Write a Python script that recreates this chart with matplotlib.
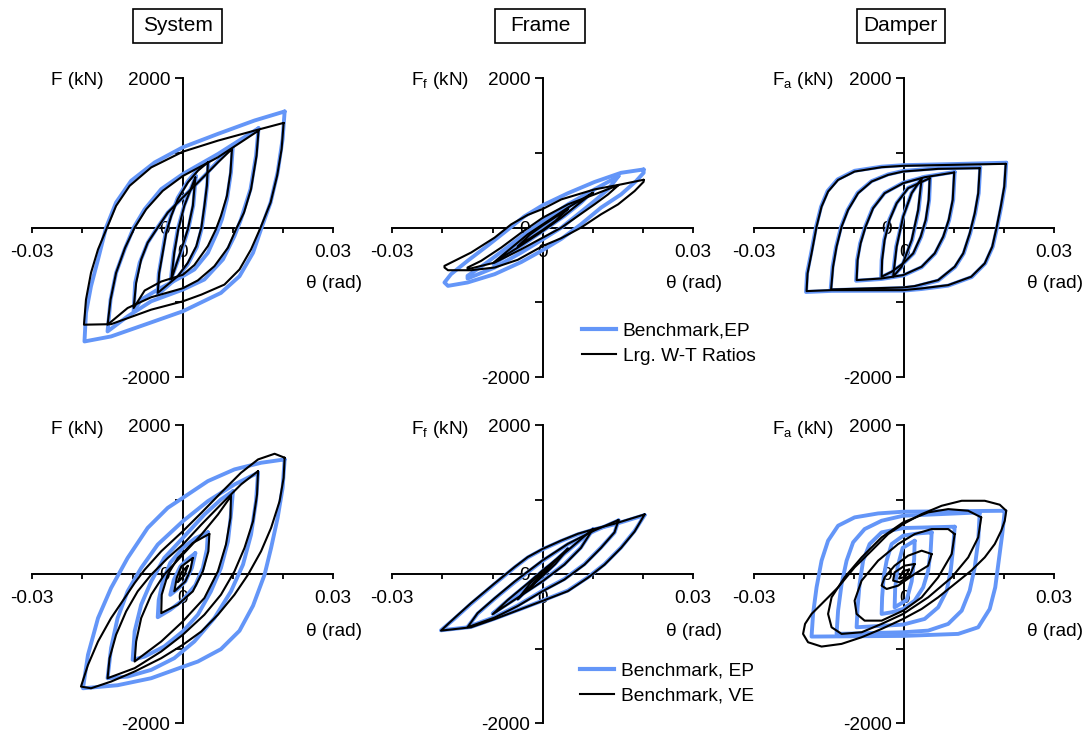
import numpy as np
import matplotlib
matplotlib.use("Agg")
import matplotlib.pyplot as plt
from matplotlib.lines import Line2D
from matplotlib.patches import Rectangle

plt.rcParams['font.family'] = ['Liberation Sans', 'DejaVu Sans']
plt.rcParams['mathtext.default'] = 'regular'
plt.rcParams['axes.unicode_minus'] = False

# ---------------- data: each loop = list of (theta [mrad], force [kN])
# Top row: System / Frame / Damper, Benchmark EP (blue) vs Large W-T ratios (black)
sys_top_ep = [
    [(20.3,1553),(19.9,1186),(18.9,738),(17.5,336),(15.7,0),(14.0,-336),(11.3,-649),(7.6,-872),(0,-1118),(-7.6,-1297),(-14.3,-1454),(-19.6,-1521),(-19.3,-1141),(-18.3,-783),(-16.9,-425),(-15.3,0),(-13.3,336),(-10.3,626),(-5.6,872),(0,1074),(7.0,1253),(14.3,1432)],
    [(15.1,1329),(14.6,962),(13.5,515),(11.6,112),(10.3,-112),(8.0,-425),(4.3,-693),(0,-828),(-6.3,-984),(-11.0,-1186),(-15.0,-1387),(-14.4,-962),(-13.3,-604),(-11.6,-291),(-9.8,0),(-7.6,246),(-4.3,515),(0,716),(7.0,984)],
    [(10.0,1105),(9.6,738),(8.8,380),(7.8,112),(6.8,-67),(5.0,-336),(2.3,-559),(0,-649),(-5.0,-828),(-8.3,-962),(-9.8,-1118),(-9.5,-738),(-8.6,-470),(-7.0,-201),(-5.3,-22),(-3.0,201),(0,403),(4.3,693)],
    [(5.1,895),(4.9,600),(4.4,300),(3.8,0),(2.8,-260),(1.0,-490),(-1.0,-660),(-3.0,-780),(-5.0,-895),(-4.8,-620),(-4.1,-340),(-3.4,-60),(-2.3,170),(-1.0,400),(1.0,620),(3.0,780)],
    [(2.6,690),(2.1,300),(1.1,-20),(-0.2,-300),(-2.4,-700),(-1.8,-340),(-1.0,-20),(0.3,300)],
]
sys_top_wt = [
    [(20.1,1400),(19.7,1051),(18.8,693),(17.5,336),(15.5,0),(13.6,-291),(11.3,-559),(8.3,-761),(3.7,-895),(0,-985),(-6.3,-1096),(-11.0,-1210),(-14.3,-1290),(-19.7,-1297),(-19.3,-962),(-18.3,-604),(-16.9,-291),(-15.1,0),(-13.3,291),(-10.6,559),(-6.3,805),(0,1015),(7.0,1163),(14.3,1297)],
    [(15.1,1297),(14.7,962),(13.6,515),(12.2,201),(10.6,-22),(9.0,-268),(6.3,-515),(3.0,-705),(0,-810),(-6.3,-930),(-11.0,-1074),(-15.0,-1297),(-14.4,-962),(-13.3,-604),(-11.5,-268),(-9.6,0),(-7.3,246),(-4.0,492),(0,690),(7.0,940)],
    [(9.8,1051),(9.5,738),(8.8,425),(7.6,157),(6.6,-22),(5.0,-246),(2.3,-500),(0,-630),(-4.3,-720),(-7.6,-840),(-9.8,-1074),(-9.3,-738),(-8.3,-425),(-7.0,-201),(-5.0,0),(-3.0,201),(0,403),(3.7,649),(7.0,872)],
    [(5.0,872),(4.8,559),(4.3,291),(3.7,0),(2.7,-246),(1.0,-470),(-1.0,-649),(-3.0,-761),(-5.0,-872),(-4.7,-604),(-4.0,-336),(-3.3,-67),(-2.3,157),(-1.0,380),(1.0,604),(3.0,761)],
    [(2.5,671),(2.0,291),(1.0,-22),(-0.3,-291),(-2.3,-693),(-1.7,-336),(-0.9,-22),(0.3,291)],
]
frm_top_ep = [
    [(20.1,778),(20.1,733),(18.6,622),(15.6,444),(11.6,267),(7.6,44),(3.7,-150),(0,-300),(-4.3,-460),(-9.6,-622),(-15.0,-733),(-18.9,-778),(-19.6,-733),(-18.3,-622),(-15.0,-444),(-11.0,-240),(-7.6,-60),(-3.7,150),(0,300),(5.0,460),(10.3,610),(15.6,733)],
    [(15.1,689),(13.0,511),(10.3,356),(7.0,178),(3.7,0),(0,-156),(-4.3,-333),(-9.6,-533),(-15.0,-680),(-15.0,-644),(-11.6,-489),(-7.6,-289),(-3.7,-89),(0,89),(5.0,311),(10.3,511)],
    [(10.0,489),(7.6,333),(4.3,156),(0,-44),(-4.3,-244),(-9.8,-489),(-7.0,-311),(-3.7,-133),(0,44),(4.3,244)],
    [(5.0,267),(2.5,100),(0,-20),(-2.5,-150),(-5.0,-267),(-2.5,-100),(0,20),(2.5,150)],
]
frm_top_wt = [
    [(20.1,640),(20.1,613),(18.3,489),(15.0,311),(11.6,178),(7.6,0),(3.7,-140),(0,-245),(-5.0,-430),(-9.6,-533),(-14.3,-569),(-18.9,-569),(-19.6,-533),(-19.6,-511),(-17.6,-444),(-14.3,-333),(-9.6,-133),(-6.3,44),(-3.0,170),(0,250),(3.7,378),(10.3,511),(15.6,578)],
    [(15.1,569),(13.0,444),(10.3,311),(7.0,156),(3.7,0),(0,-133),(-4.3,-289),(-9.6,-467),(-15.0,-556),(-15.0,-533),(-12.3,-444),(-8.3,-267),(-4.3,-67),(0,133),(5.0,311),(10.3,444)],
    [(10.0,467),(7.0,311),(3.7,133),(0,-44),(-5.0,-267),(-9.8,-467),(-7.0,-311),(-3.0,-89),(0,44),(5.0,267)],
    [(5.0,250),(2.5,90),(0,-30),(-2.5,-140),(-5.0,-250),(-2.5,-90),(0,30),(2.5,140)],
]
dmp_top_ep = [
    [(20.4,868),(20.1,549),(19.4,281),(18.6,13),(17.7,-254),(16.2,-478),(13.5,-660),(8.8,-775),(3.5,-820),(-0.2,-842),(-14.5,-845),(-19.6,-860),(-19.4,-612),(-18.6,-344),(-17.6,13),(-16.6,281),(-15.3,490),(-13.3,645),(-9.9,760),(-4.5,815),(-0.2,835),(10.0,850)],
    [(15.2,805),(14.9,460),(14.2,192),(13.2,-76),(11.9,-344),(10.2,-525),(6.8,-708),(2.1,-790),(-0.2,-808),(-14.7,-835),(-14.3,-522),(-13.6,-254),(-12.6,13),(-11.3,237),(-9.3,465),(-6.5,622),(-3.2,712),(-0.2,758),(6.8,795)],
    [(10.1,745),(9.8,371),(9.0,103),(7.9,-121),(6.2,-344),(3.5,-528),(-0.2,-640),(-4.5,-686),(-9.6,-710),(-9.4,-433),(-8.8,-210),(-7.8,13),(-6.3,259),(-3.9,465),(-0.2,600),(4.1,680)],
    [(5.2,668),(5.0,371),(4.4,103),(3.4,-121),(1.9,-344),(-0.2,-482),(-2.5,-595),(-4.6,-662),(-4.5,-433),(-4.0,-165),(-3.0,103),(-1.5,330),(0.8,532)],
    [(3.6,668),(2.9,237),(1.6,-165),(-0.5,-525),(-2.3,-662),(-1.6,-254),(-0.2,150),(1.5,465)],
]
dmp_top_wt = [
    [(20.3,853),(20.0,549),(19.3,281),(18.5,13),(17.6,-254),(16.1,-478),(13.4,-656),(8.8,-768),(3.5,-812),(-0.2,-835),(-14.5,-835),(-19.5,-848),(-19.3,-612),(-18.5,-344),(-17.5,13),(-16.5,281),(-15.2,482),(-13.2,638),(-9.9,750),(-4.5,808),(-0.2,826),(10.0,840)],
    [(15.1,795),(14.8,460),(14.1,192),(13.1,-76),(11.8,-344),(10.1,-522),(6.8,-701),(2.1,-781),(-0.2,-799),(-14.6,-826),(-14.2,-522),(-13.5,-254),(-12.5,13),(-11.2,237),(-9.2,460),(-6.5,616),(-3.2,705),(-0.2,750),(6.8,786)],
    [(10.0,737),(9.7,371),(8.9,103),(7.8,-121),(6.1,-344),(3.5,-522),(-0.2,-634),(-4.5,-679),(-9.5,-701),(-9.3,-433),(-8.7,-210),(-7.7,13),(-6.2,259),(-3.9,460),(-0.2,594),(4.1,674)],
    [(5.1,661),(4.9,371),(4.3,103),(3.3,-121),(1.8,-344),(-0.2,-478),(-2.5,-589),(-4.5,-656),(-4.4,-433),(-3.9,-165),(-2.9,103),(-1.5,326),(0.8,527)],
    [(3.5,661),(2.8,237),(1.5,-165),(-0.5,-522),(-2.2,-656),(-1.5,-254),(-0.2,147),(1.5,460)],
]

# Bottom row: Benchmark EP (blue) vs Benchmark VE (black)
sys_bot_ep = [
    [(20.3,1538),(19.9,1157),(18.9,753),(17.6,350),(16.3,-9),(14.0,-426),(11.3,-762),(7.6,-1009),(3.0,-1175),(0,-1246),(-6.3,-1399),(-13.0,-1493),(-19.9,-1534),(-18.9,-1085),(-16.9,-592),(-14.3,-188),(-11.0,215),(-7.0,619),(-3.0,888),(0,1022),(5.0,1247),(10.3,1404),(15.6,1493)],
    [(15.0,1359),(14.6,978),(13.6,529),(12.0,126),(9.6,-233),(6.3,-592),(2.3,-906),(-1.7,-1130),(-6.3,-1287),(-11.0,-1377),(-15.0,-1399),(-14.3,-995),(-13.0,-592),(-11.0,-233),(-8.3,81),(-5.0,395),(0,708),(5.0,978),(10.3,1202)],
    [(10.0,1112),(9.6,798),(9.0,439),(7.6,81),(5.6,-233),(3.0,-547),(0,-771),(-3.7,-973),(-7.6,-1108),(-10.0,-1152),(-9.6,-771),(-8.3,-413),(-6.3,-99),(-3.7,215),(0,484),(4.3,798),(7.6,1000)],
    [(5.0,560),(4.8,330),(4.0,80),(2.5,-150),(0,-350),(-2.5,-480),(-5.0,-580),(-4.8,-350),(-4.0,-100),(-2.5,150),(0,350),(2.5,480)],
    [(2.5,280),(1.8,80),(0.5,-100),(-1.0,-200),(-2.5,-280),(-1.8,-80),(-0.5,100),(1.0,200)],
]
sys_bot_ve = [
    [(20.3,1561),(20.1,1291),(19.3,978),(17.6,619),(15.6,305),(13.0,-9),(10.3,-278),(7.0,-547),(3.7,-771),(0,-951),(-4.3,-1130),(-9.6,-1309),(-14.3,-1444),(-18.3,-1534),(-20.3,-1511),(-18.9,-1220),(-16.9,-906),(-14.3,-592),(-11.6,-323),(-9.6,-121),(-7.6,58),(-4.3,305),(0,574),(3.7,821),(7.6,1090),(11.6,1359),(15.0,1538),(18.3,1614)],
    [(15.0,1381),(14.8,1067),(14.0,708),(12.3,350),(10.3,36),(7.6,-278),(4.3,-547),(0,-816),(-4.3,-1040),(-9.6,-1264),(-15.0,-1399),(-14.6,-1130),(-13.3,-816),(-11.3,-502),(-9.0,-233),(-6.3,-9),(-3.0,215),(0,395),(3.7,664),(7.6,933),(11.6,1202)],
    [(9.6,1045),(9.5,753),(8.6,395),(7.0,36),(4.3,-323),(0,-637),(-4.3,-906),(-8.3,-1108),(-9.6,-1175),(-9.3,-906),(-8.3,-592),(-6.3,-278),(-3.7,-9),(0,260),(3.7,529),(7.0,798)],
    [(5.3,538),(5.1,305),(4.0,36),(2.0,-233),(-1.0,-413),(-4.3,-525),(-4.2,-278),(-3.0,-9),(-1.0,215),(2.0,417)],
    [(2.0,215),(1.5,50),(0.5,-100),(-1.7,-233),(-1.2,-50),(-0.3,100)],
    [(1.0,110),(0.3,-20),(-1.0,-110),(-0.3,20)],
]
frm_bot_ep = [
    [(20.3,791),(18.3,578),(15.6,356),(12.3,133),(9.0,-44),(5.0,-222),(0,-356),(-4.3,-467),(-9.6,-600),(-14.3,-711),(-20.3,-756),(-17.6,-600),(-14.3,-400),(-9.6,-133),(-5.6,89),(-3.0,222),(0,333),(3.7,444),(7.0,533),(10.3,600),(14.3,667)],
    [(15.1,720),(14.3,556),(11.6,356),(8.3,133),(4.3,-67),(0,-222),(-5.0,-422),(-9.6,-578),(-15.0,-711),(-13.0,-533),(-9.6,-333),(-5.6,-111),(0,178),(5.0,400),(10.3,578)],
    [(10.0,600),(7.6,356),(4.3,133),(0,-89),(-5.0,-311),(-10.0,-533),(-7.0,-356),(-3.0,-133),(0,44),(5.0,311)],
    [(5.0,333),(2.5,140),(0,-20),(-2.5,-170),(-5.0,-333),(-2.5,-130),(0,20),(2.5,180)],
]
frm_bot_ve = [
    [(20.3,800),(18.3,570),(15.6,350),(12.3,125),(9.0,-50),(5.0,-230),(0,-360),(-4.3,-470),(-9.6,-605),(-14.3,-715),(-20.3,-760),(-17.6,-590),(-14.3,-390),(-9.6,-125),(-5.6,95),(-3.0,228),(0,338),(3.7,450),(7.0,540),(10.3,605),(14.3,675)],
    [(15.1,725),(14.3,560),(11.6,350),(8.3,125),(4.3,-75),(0,-230),(-5.0,-430),(-9.6,-585),(-15.0,-715),(-13.0,-525),(-9.6,-325),(-5.6,-100),(0,185),(5.0,405),(10.3,585)],
    [(10.0,605),(7.6,350),(4.3,125),(0,-95),(-5.0,-318),(-10.0,-540),(-7.0,-350),(-3.0,-125),(0,50),(5.0,318)],
    [(5.0,340),(2.5,135),(0,-25),(-2.5,-175),(-5.0,-340),(-2.5,-125),(0,25),(2.5,185)],
    [(2.5,180),(0,-10),(-2.5,-180),(0,10)],
]
dmp_bot_ep = [
    [(20.1,849),(19.6,536),(18.9,179),(18.2,-179),(17.1,-469),(14.8,-715),(10.8,-804),(-0.2,-831),(-18.5,-840),(-18.2,-536),(-17.5,-179),(-16.5,179),(-15.2,447),(-13.2,648),(-9.9,760),(-5.2,813),(-0.2,836)],
    [(15.1,827),(14.8,447),(14.1,89),(13.1,-223),(11.5,-492),(8.8,-670),(4.8,-760),(-0.2,-782),(-13.5,-804),(-13.2,-492),(-12.5,-134),(-11.5,179),(-10.2,425),(-7.9,603),(-4.5,715),(-0.2,782)],
    [(10.1,635),(9.8,358),(9.3,45),(8.5,-223),(6.8,-447),(4.1,-603),(-0.2,-679),(-9.5,-715),(-9.3,-447),(-8.9,-134),(-8.2,179),(-6.9,402),(-4.5,559),(-0.2,617)],
    [(5.5,559),(5.3,313),(4.8,45),(3.8,-179),(2.1,-358),(-0.2,-469),(-2.5,-514),(-4.5,-536),(-4.4,-313),(-4.1,-45),(-3.5,179),(-2.5,402),(-0.2,514),(2.8,545)],
    [(2.1,447),(2.0,200),(1.5,-100),(0.5,-350),(-1.9,-447),(-1.8,-200),(-1.3,100),(-0.3,350)],
]
dmp_bot_ve = [
    [(20.4,849),(20.1,715),(19.4,581),(18.1,402),(16.1,223),(13.4,45),(10.1,-134),(6.8,-313),(3.5,-469),(-0.2,-603),(-4.5,-737),(-8.5,-849),(-12.5,-938),(-16.5,-974),(-19.2,-916),(-20.2,-804),(-19.8,-670),(-18.5,-536),(-16.5,-402),(-13.2,-179),(-9.9,89),(-6.5,313),(-3.2,536),(-0.2,670),(3.5,804),(7.5,916),(11.5,983),(16.1,983),(19.1,930)],
    [(15.4,760),(14.8,492),(12.8,223),(9.5,-45),(4.8,-313),(-0.2,-536),(-4.5,-670),(-8.5,-782),(-12.5,-804),(-14.5,-715),(-15.2,-536),(-14.5,-313),(-11.9,-45),(-8.5,223),(-4.5,492),(-0.2,693),(4.8,827),(8.8,871),(12.8,849)],
    [(10.1,536),(9.5,268),(6.8,-45),(3.5,-313),(-0.2,-492),(-4.5,-626),(-7.9,-626),(-9.5,-536),(-9.9,-358),(-8.5,-89),(-5.2,179),(-1.2,402),(2.1,536),(5.5,603),(8.8,603)],
    [(5.5,268),(4.8,112),(2.1,0),(-1.2,-156),(-3.5,-201),(-4.5,-156),(-3.9,-45),(-1.9,112),(0.8,246),(3.5,313)],
    [(2.1,134),(1.1,-22),(-0.9,-112),(-2.2,-89),(-1.9,22),(0.1,112)],
    [(1.0,60),(0.2,-40),(-1.0,-60),(-0.2,40)],
]

panel_titles = ['System', 'Frame', 'Damper']
y_labels = ['F (kN)', 'F$_{f}$ (kN)', 'F$_{a}$ (kN)']
x_label = 'θ (rad)'
x_ticks = [-0.03, -0.02, -0.01, 0.0, 0.01, 0.02, 0.03]
x_tick_labels = ['-0.03', '', '', '0', '', '', '0.03']
y_ticks = [-2000, -1000, 0, 1000, 2000]
y_tick_labels = ['-2000', '', '0', '', '2000']
legend_top = ['Benchmark,EP', 'Lrg. W-T Ratios']
legend_bot = ['Benchmark, EP', 'Benchmark, VE']

rows = [
    [(sys_top_ep, sys_top_wt), (frm_top_ep, frm_top_wt), (dmp_top_ep, dmp_top_wt)],
    [(sys_bot_ep, sys_bot_ve), (frm_bot_ep, frm_bot_ve), (dmp_bot_ep, dmp_bot_ve)],
]

# ---------------- styling / layout
BLUE = '#6496F8'
BLACK = '#000000'
W, H = 1090, 734
col_left = [32.3, 392.3, 754.0]
col_width = [301.0, 301.0, 300.3]
row_top = [78.0, 425.0]
row_bot = [377.3, 723.0]
# title boxes in pixels: (left, right, top, bottom)
title_boxes = [(133.3, 221.7, 9.0, 42.5), (495.0, 585.0, 8.5, 43.0), (856.7, 945.0, 9.0, 42.5)]

fig = plt.figure(figsize=(W / 100, H / 100), dpi=100)

for r in range(2):
    for c in range(3):
        ax = fig.add_axes([col_left[c] / W, 1 - row_bot[r] / H,
                           col_width[c] / W, (row_bot[r] - row_top[r]) / H])
        ep, other = rows[r][c]
        for loop in ep:
            pts = np.array(loop + [loop[0]], dtype=float)
            ax.plot(pts[:, 0] * 1e-3, pts[:, 1], color=BLUE, lw=2.8, zorder=2,
                    solid_joinstyle='round', solid_capstyle='round')
        for loop in other:
            pts = np.array(loop + [loop[0]], dtype=float)
            ax.plot(pts[:, 0] * 1e-3, pts[:, 1], color=BLACK, lw=1.5, zorder=3,
                    solid_joinstyle='round', solid_capstyle='round')
        ax.set_xlim(-0.03, 0.03)
        ax.set_ylim(-2000, 2000)
        ax.patch.set_visible(False)
        for s in ['top', 'right']:
            ax.spines[s].set_visible(False)
        for s in ['left', 'bottom']:
            ax.spines[s].set_position(('data', 0))
            ax.spines[s].set_linewidth(1.4)
            ax.spines[s].set_zorder(0.5)
        ax.set_axisbelow(True)
        ax.set_xticks(x_ticks)
        ax.set_xticklabels(x_tick_labels)
        ax.set_yticks(y_ticks)
        ax.set_yticklabels(y_tick_labels)
        ax.tick_params(axis='x', direction='out', length=3.8, width=1.3, pad=8, labelsize=13.7)
        ax.tick_params(axis='y', direction='out', length=5.5, width=1.3, pad=3.5, labelsize=13.7)
        ax.text(0.061, 0.99 if r == 0 else 0.985, y_labels[c], transform=ax.transAxes,
                ha='left', va='center', fontsize=13.7)
        ax.text(1.095, 0.315 if r == 0 else 0.306, x_label, transform=ax.transAxes,
                ha='right', va='center', fontsize=13.7)

for c in range(3):
    x0, x1, y0, y1 = title_boxes[c]
    fig.patches.append(Rectangle((x0 / W, 1 - y1 / H), (x1 - x0) / W, (y1 - y0) / H,
                                 transform=fig.transFigure, fill=False, ec='black', lw=1.2))
    fig.text((x0 + x1) / 2 / W, 1 - (y0 + y1) / 2 / H, panel_titles[c],
             ha='center', va='center', fontsize=15)

def legend_handles():
    return [Line2D([], [], color=BLUE, lw=3.0), Line2D([], [], color=BLACK, lw=1.5)]

fig.legend(legend_handles(), legend_top, loc='upper left',
           bbox_to_anchor=(582 / W, 1 - 322 / H), frameon=False, fontsize=13.8,
           handlelength=1.75, handletextpad=0.37, labelspacing=0.42,
           borderpad=0, borderaxespad=0)
fig.legend(legend_handles(), legend_bot, loc='upper left',
           bbox_to_anchor=(580 / W, 1 - 662 / H), frameon=False, fontsize=13.8,
           handlelength=1.75, handletextpad=0.37, labelspacing=0.42,
           borderpad=0, borderaxespad=0)

fig.savefig('out.png', dpi=100)
